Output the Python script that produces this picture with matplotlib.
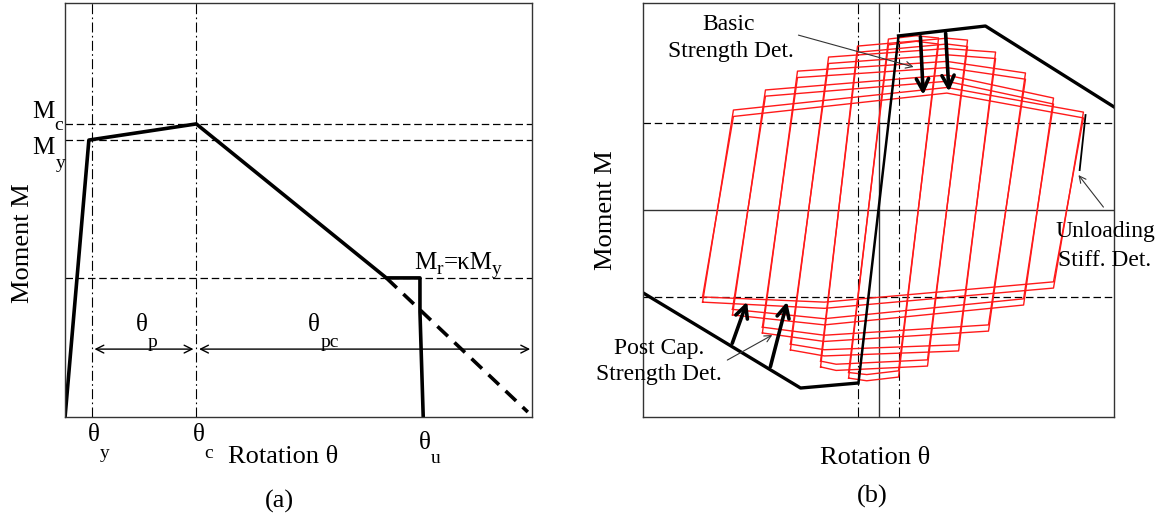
import matplotlib
matplotlib.use('Agg')
import matplotlib.pyplot as plt

plt.rcParams['font.family'] = ['Liberation Serif', 'DejaVu Serif']

# ---- panel (a): backbone curve ----
bb_theta = [0.0, 0.51, 2.81, 6.88, 7.60, 7.60, 7.67]
bb_moment = [0.0, 6.69, 7.08, 3.36, 3.36, 2.54, 0.0]
ext_theta = [6.88, 9.91]
ext_moment = [3.36, 0.12]
theta_y, theta_c, theta_end = 0.57, 2.81, 9.96
M_c, M_y, M_r = 7.08, 6.69, 3.36
arrow_m = 1.64

# ---- panel (b): hysteresis loops (6 amplitudes, 2 cycles each) ----
bl_x = [-1.27, -2.46, -3.74, -4.93, -6.20, -7.47]
tl_x = [0.42, -0.89, -2.12, -3.44, -4.80, -6.16]
tp_x = [1.6, 2.9, 2.9, 2.9, 2.9, 2.9]
tr_x = [2.55, 3.78, 4.97, 6.24, 7.43, 8.70]
br_x = [0.85, 2.08, 3.40, 4.67, 6.16, 7.43]
bp_x = [-0.5, -1.8, -2.3, -2.3, -2.3, -2.3]

tl_y = [8.26, 7.98, 7.92, 7.62, 7.39, 7.08, 6.71, 6.40, 5.80, 5.50, 4.83, 4.52]
tp_y = [8.42, 8.15, 8.30, 8.02, 7.80, 7.50, 7.18, 6.88, 6.52, 6.22, 5.92, 5.65]
tr_y = [8.31, 8.02, 8.21, 7.90, 7.63, 7.32, 6.62, 6.32, 5.41, 5.12, 4.73, 4.45]
br_y = [-8.07, -7.77, -7.54, -7.24, -6.81, -6.51, -5.85, -5.55, -4.59, -4.29, -3.77, -3.47]
bp_y = [-8.25, -7.95, -7.75, -7.45, -7.05, -6.75, -6.35, -6.05, -5.55, -5.25, -4.75, -4.45]
bl_y = [-8.12, -7.85, -7.58, -7.30, -6.76, -6.48, -5.94, -5.66, -5.07, -4.80, -4.45, -4.20]

elastic_theta = [-0.85, 0.85]
elastic_m = [-8.36, 8.41]
pos_bb_theta = [0.85, 4.54, 10.0]
pos_bb_m = [8.41, 8.89, 4.98]
neg_bb_theta = [-10.0, -3.31, -0.89]
neg_bb_m = [-4.0, -8.6, -8.36]
unl_theta = [8.79, 8.54]
unl_m = [4.59, 1.93]
yield_rot_b = 0.89
yield_m_b = 4.2

dash = (0, (6, 3))
dashdot = (0, (9, 3, 1.5, 3))

fig = plt.figure(figsize=(11.68, 5.24), dpi=100)
ax1 = fig.add_axes([0.0557, 0.2042, 0.3998, 0.790])
ax2 = fig.add_axes([0.5505, 0.2042, 0.4033, 0.790])

for ax in (ax1, ax2):
    ax.set_xticks([])
    ax.set_yticks([])
    for s in ax.spines.values():
        s.set_linewidth(1.0)
        s.set_color('#333333')

# ---------- (a) ----------
ax1.set_xlim(0, 10)
ax1.set_ylim(0, 10)
for m in (M_c, M_y, M_r):
    ax1.axhline(m, color='k', lw=0.9, ls=dash)
for t in (theta_y, theta_c):
    ax1.axvline(t, color='k', lw=0.8, ls=dashdot)
ax1.plot(bb_theta, bb_moment, color='k', lw=2.6)
ax1.plot(ext_theta, ext_moment, color='k', lw=2.6, ls=(0, (4, 2.5)))

arr = dict(arrowstyle='<->', lw=1.0, color='k', shrinkA=0, shrinkB=0, mutation_scale=14)
ax1.annotate('', xy=(theta_c - 0.06, arrow_m), xytext=(theta_y + 0.06, arrow_m), arrowprops=arr)
ax1.annotate('', xy=(theta_end, arrow_m), xytext=(theta_c + 0.06, arrow_m), arrowprops=arr)

big = 19
mid = 18
sub = 14
ax1.text(-0.46, 7.37, 'M', fontsize=mid, ha='center', va='center')
ax1.text(-0.14, 7.03, 'c', fontsize=sub, ha='center', va='center')
ax1.text(-0.46, 6.49, 'M', fontsize=mid, ha='center', va='center')
ax1.text(-0.10, 6.13, 'y', fontsize=sub, ha='center', va='center')
ax1.text(-0.90, 4.20, 'Moment M', fontsize=big, rotation=90, ha='center', va='center')
ax1.text(0.62, -0.43, 'θ', fontsize=mid, ha='center', va='center')
ax1.text(0.85, -0.87, 'y', fontsize=sub, ha='center', va='center')
ax1.text(2.86, -0.43, 'θ', fontsize=mid, ha='center', va='center')
ax1.text(3.08, -0.89, 'c', fontsize=sub, ha='center', va='center')
ax1.text(7.70, -0.63, 'θ', fontsize=mid, ha='center', va='center')
ax1.text(7.94, -1.01, 'u', fontsize=sub, ha='center', va='center')
ax1.text(4.67, -0.97, 'Rotation θ', fontsize=big, ha='center', va='center')
ax1.text(4.60, -2.05, '(a)', fontsize=big, ha='center', va='center')
ax1.text(1.65, 2.22, 'θ', fontsize=mid, ha='center', va='center')
ax1.text(1.87, 1.79, 'p', fontsize=sub, ha='center', va='center')
ax1.text(5.33, 2.22, 'θ', fontsize=mid, ha='center', va='center')
ax1.text(5.67, 1.79, 'pc', fontsize=sub, ha='center', va='center')
ax1.text(7.72, 3.72, 'M', fontsize=mid, ha='center', va='center')
ax1.text(8.03, 3.56, 'r', fontsize=sub, ha='center', va='center')
ax1.text(8.63, 3.72, '=κM', fontsize=mid, ha='center', va='center')
ax1.text(9.25, 3.56, 'y', fontsize=sub, ha='center', va='center')

# ---------- (b) ----------
ax2.set_xlim(-10, 10)
ax2.set_ylim(-10, 10)
ax2.axhline(0, color='#333333', lw=1.0)
ax2.axvline(0, color='#333333', lw=1.0)
for m in (yield_m_b, -yield_m_b):
    ax2.axhline(m, color='k', lw=0.9, ls=dash)
for t in (yield_rot_b, -yield_rot_b):
    ax2.axvline(t, color='k', lw=0.8, ls=dashdot)

for i in range(len(tl_y)):
    j = i // 2
    xs = [bl_x[j], tl_x[j], tp_x[j], tr_x[j], br_x[j], bp_x[j], bl_x[j]]
    ys = [bl_y[i], tl_y[i], tp_y[i], tr_y[i], br_y[i], bp_y[i], bl_y[i]]
    ax2.plot(xs, ys, color='#ff1a1a', lw=1.0)

ax2.plot(elastic_theta, elastic_m, color='k', lw=1.8)
ax2.plot(pos_bb_theta, pos_bb_m, color='k', lw=2.4)
ax2.plot(neg_bb_theta, neg_bb_m, color='k', lw=2.4)
ax2.plot(unl_theta, unl_m, color='k', lw=1.3)

thick = dict(arrowstyle='->', lw=2.6, color='k', shrinkA=0, shrinkB=0, mutation_scale=22)
thin = dict(arrowstyle='->', lw=0.8, color='#333333', shrinkA=0, shrinkB=0, mutation_scale=12)
ax2.annotate('', xy=(1.90, 5.56), xytext=(1.78, 8.37), arrowprops=thick)
ax2.annotate('', xy=(2.99, 5.72), xytext=(2.85, 8.54), arrowprops=thick)
ax2.annotate('', xy=(-5.58, -4.43), xytext=(-6.21, -6.44), arrowprops=thick)
ax2.annotate('', xy=(-3.88, -4.43), xytext=(-4.59, -7.57), arrowprops=thick)
ax2.annotate('', xy=(1.49, 6.91), xytext=(-3.40, 8.45), arrowprops=thin)
ax2.annotate('', xy=(-4.51, -6.04), xytext=(-6.42, -7.25), arrowprops=thin, annotation_clip=False)
ax2.annotate('', xy=(8.49, 1.69), xytext=(9.55, 0.14), arrowprops=thin, annotation_clip=False)

ann = 17
ax2.text(-6.37, 8.94, 'Basic', fontsize=ann, ha='center', va='center')
ax2.text(-6.28, 7.65, 'Strength Det.', fontsize=ann, ha='center', va='center')
ax2.text(-9.31, -6.68, 'Post Cap.', fontsize=ann, ha='center', va='center')
ax2.text(-9.31, -7.97, 'Strength Det.', fontsize=ann, ha='center', va='center')
ax2.text(9.64, -1.05, 'Unloading', fontsize=ann, ha='center', va='center')
ax2.text(9.60, -2.42, 'Stiff. Det.', fontsize=ann, ha='center', va='center')
ax2.text(-11.55, 0.0, 'Moment M', fontsize=big, rotation=90, ha='center', va='center')
ax2.text(-0.13, -11.98, 'Rotation θ', fontsize=big, ha='center', va='center')
ax2.text(-0.25, -13.86, '(b)', fontsize=big, ha='center', va='center')

fig.savefig('out.png', dpi=100)
